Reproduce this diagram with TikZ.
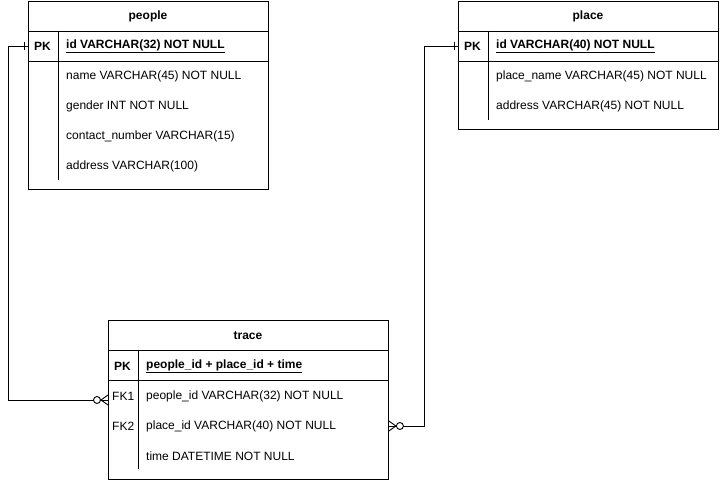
\documentclass[tikz,border=0pt]{standalone}
\usepackage{fontspec}
\setmainfont{Liberation Sans}
\usetikzlibrary{calc}

\begin{document}
\begin{tikzpicture}[x=1pt, y=-1pt,
  tbl/.style={draw, line width=0.9pt, anchor=north west, inner sep=0pt},
  ttl/.style={font=\fontsize{12}{14}\selectfont\bfseries, inner sep=0pt},
  key/.style={font=\fontsize{12}{14}\selectfont\bfseries, anchor=west, inner sep=0pt},
  fld/.style={font=\fontsize{12}{14}\selectfont, anchor=west, inner sep=0pt},
  pkf/.style={fld, font=\fontsize{12}{14}\selectfont\bfseries},
  sep/.style={line width=0.9pt},
  rel/.style={line width=0.9pt}]
\useasboundingbox (0,0) rectangle (724,481);
% people
\node[tbl, minimum width=240, minimum height=188] (people) at (28,1) {};
\node[ttl] (people-t) at (148,16) {people};
\draw[sep] (28,31) -- (268,31) (28,61) -- (268,61) (58,31) -- (58,180);
\node[key] (people-pk) at (34,46) {PK};
\node[pkf] (people-id) at (66,46) {\underline{id VARCHAR(32) NOT NULL}};
\node[fld] (people-name) at (66,76) {name VARCHAR(45) NOT NULL};
\node[fld] (people-gender) at (66,106) {gender INT NOT NULL};
\node[fld] (people-contact) at (66,136) {contact\_number VARCHAR(15)};
\node[fld] (people-address) at (66,166) {address VARCHAR(100)};
% place
\node[tbl, minimum width=260, minimum height=128] (place) at (458,1) {};
\node[ttl] (place-t) at (588,16) {place};
\draw[sep] (458,31) -- (718,31) (458,61) -- (718,61) (488,31) -- (488,120);
\node[key] (place-pk) at (464,46) {PK};
\node[pkf] (place-id) at (496,46) {\underline{id VARCHAR(40) NOT NULL}};
\node[fld] (place-name) at (496,76) {place\_name VARCHAR(45) NOT NULL};
\node[fld] (place-address) at (496,106) {address VARCHAR(45) NOT NULL};
% trace
\node[tbl, minimum width=280, minimum height=159] (trace) at (108,320) {};
\node[ttl] (trace-t) at (248,336) {trace};
\draw[sep] (108,350) -- (388,350) (108,380) -- (388,380) (138,350) -- (138,469);
\node[key] (trace-pk) at (114,366) {PK};
\node[pkf] (trace-id) at (146,366) {\underline{people\_id + place\_id + time}};
\node[fld] (trace-fk1) at (112,396) {FK1};
\node[fld] (trace-people) at (146,396) {people\_id VARCHAR(32) NOT NULL};
\node[fld] (trace-fk2) at (112,426) {FK2};
\node[fld] (trace-place) at (146,426) {place\_id VARCHAR(40) NOT NULL};
\node[fld] (trace-time) at (146,456) {time DATETIME NOT NULL};
% relations
\coordinate (people-end) at (people.west |- people-pk);
\coordinate (place-end) at (place.west |- place-pk);
\coordinate (fk1-end) at ([yshift=-4pt]trace.west |- trace-fk1);
\coordinate (fk2-end) at (trace.east |- trace-fk2);
\draw[rel] (people-end) -- ++(-20,0) |- (fk1-end);
\draw[rel] (place-end) -- ++(-34,0) |- (fk2-end);
% one
\draw[rel] ($(people-end)+(-4,-4)$) -- ++(0,8);
\draw[rel] ($(place-end)+(-4,-4)$) -- ++(0,8);
% zero or many
\draw[rel] ($(fk1-end)+(-7,0)$) -- ++(7,-5) ($(fk1-end)+(-7,0)$) -- ++(7,5);
\draw[rel, fill=white] ($(fk1-end)+(-11,0)$) circle (3.5);
\draw[rel] ($(fk2-end)+(7,0)$) -- ++(-7,-5) ($(fk2-end)+(7,0)$) -- ++(-7,5);
\draw[rel, fill=white] ($(fk2-end)+(11,0)$) circle (3.5);
\end{tikzpicture}
\end{document}
